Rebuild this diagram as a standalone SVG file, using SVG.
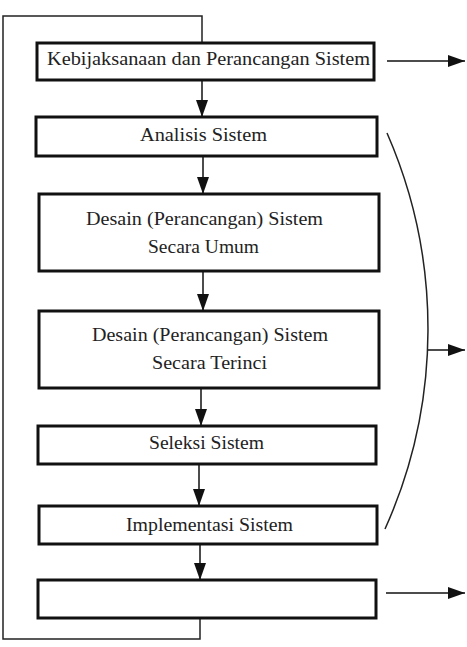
<svg xmlns="http://www.w3.org/2000/svg" width="467" height="647" viewBox="0 0 467 647">
<style>
.box{fill:#fff;stroke:#111;stroke-width:3}
.ln{fill:none;stroke:#222;stroke-width:1.5}
.ar{fill:none;stroke:#111;stroke-width:1.5;marker-end:url(#ah)}
</style>
<defs>
<marker id="ah" markerWidth="17" markerHeight="12" refX="17" refY="6" orient="auto" markerUnits="userSpaceOnUse">
<path d="M0,0 L17,6 L0,12 z" fill="#111"/>
</marker>
</defs>
<g id="connectors">
<path class="ln" d="M200,618 V639 H3 V16 H202 V43"/>
<line class="ar" x1="202" y1="80" x2="202" y2="117"/>
<line class="ar" x1="203" y1="156" x2="203" y2="194"/>
<line class="ar" x1="203" y1="271" x2="203" y2="311"/>
<line class="ar" x1="201" y1="388" x2="201" y2="426"/>
<line class="ar" x1="199" y1="464" x2="199" y2="506"/>
<line class="ar" x1="200" y1="544" x2="200" y2="580"/>
<line class="ar" x1="387" y1="61" x2="465" y2="61"/>
<line class="ar" x1="428" y1="350" x2="465" y2="350"/>
<line class="ar" x1="386" y1="593" x2="465" y2="593"/>
<path class="ln" d="M387,133 A488,488 0 0 1 385,529"/>
</g>
<g font-family="Liberation Serif" font-size="18.5" fill="#222">
<g id="n1">
<rect class="box" x="37" y="43" width="337" height="37"/>
<text x="47" y="65" textLength="323" lengthAdjust="spacingAndGlyphs">Kebijaksanaan dan Perancangan Sistem</text>
</g>
<g id="n2">
<rect class="box" x="36" y="117" width="341" height="39"/>
<text x="140" y="141" textLength="127" lengthAdjust="spacingAndGlyphs">Analisis Sistem</text>
</g>
<g id="n3">
<rect class="box" x="39" y="194" width="340" height="77"/>
<text x="86" y="225" textLength="237" lengthAdjust="spacingAndGlyphs">Desain (Perancangan) Sistem</text>
<text x="148" y="253" textLength="111" lengthAdjust="spacingAndGlyphs">Secara Umum</text>
</g>
<g id="n4">
<rect class="box" x="39" y="311" width="340" height="77"/>
<text x="92" y="341" textLength="236" lengthAdjust="spacingAndGlyphs">Desain (Perancangan) Sistem</text>
<text x="152" y="369" textLength="115" lengthAdjust="spacingAndGlyphs">Secara Terinci</text>
</g>
<g id="n5">
<rect class="box" x="38" y="426" width="338" height="38"/>
<text x="149" y="449" textLength="115" lengthAdjust="spacingAndGlyphs">Seleksi Sistem</text>
</g>
<g id="n6">
<rect class="box" x="39" y="506" width="338" height="38"/>
<text x="126" y="531" textLength="167" lengthAdjust="spacingAndGlyphs">Implementasi Sistem</text>
</g>
<g id="n7">
<rect class="box" x="38" y="580" width="338" height="38"/>
</g>
</g>
</svg>
